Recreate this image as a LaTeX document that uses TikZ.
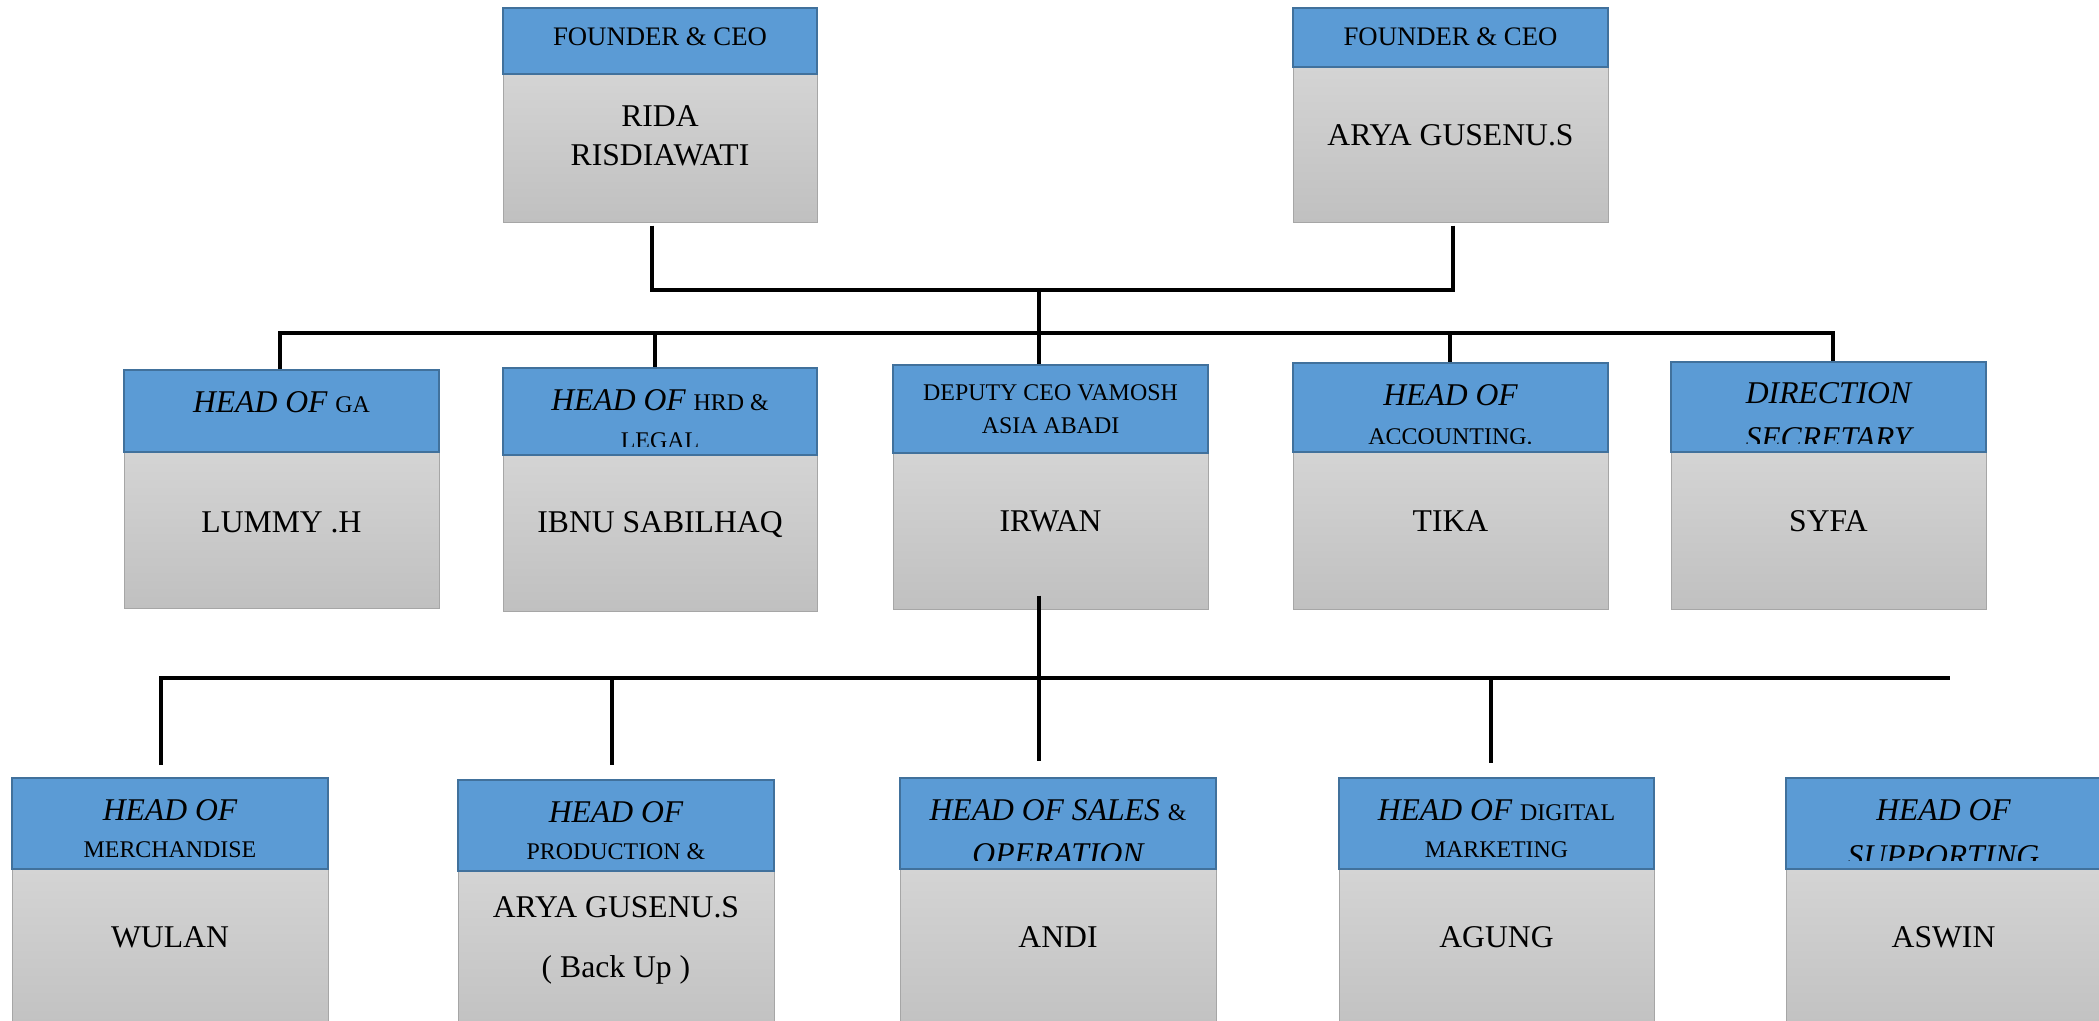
\documentclass[tikz,border=0pt]{standalone}
\usepackage{fontspec}
\setmainfont{Liberation Serif}
\usetikzlibrary{fit,calc}
\definecolor{hdrblue}{HTML}{5B9BD5}
\definecolor{hdredge}{HTML}{41719C}
\definecolor{bodytop}{HTML}{D4D4D4}
\definecolor{bodybot}{HTML}{C0C0C0}
\definecolor{bodyedge}{HTML}{A6A6A6}
\newcommand\hit[1]{{\fontsize{9}{10}\selectfont\itshape #1}}
\newcommand\hsm[1]{{\fontsize{6.8}{8}\selectfont #1}}
\newcommand\hfc[1]{{\fontsize{7.6}{9}\selectfont #1}}
\newcommand\orgbox[6]{%
  \node[bodybox, fit={(#2,#5) (#3,#6)}] (#1b) {};
  \node[hdrbox, fit={(#2,#4) (#3,#5)}] (#1h) {};
}
\newcommand\hdrclip[1]{\clip (#1h.north west) rectangle ($(#1h.south east)+(0,-10)$);}
\begin{document}
\begin{tikzpicture}[x=0.01cm, y=-0.01cm,
  conn/.style={line width=0.04cm, black},
  hdrbox/.style={fill=hdrblue, draw=hdredge, line width=0.02cm, inner sep=0pt},
  bodybox/.style={top color=bodytop, bottom color=bodybot, draw=bodyedge, line width=0.01cm, inner sep=0pt},
  txt/.style={inner sep=0pt, anchor=base, font=\fontsize{9}{11}\selectfont}]
\useasboundingbox (0,0) rectangle (2099,1021);
\clip (0,0) rectangle (2099,1021);

% boxes
\orgbox{ra}{503}{817}{8}{74}{222}
\orgbox{rb}{1293}{1608}{8}{67}{222}
\orgbox{ga}{124}{439}{370}{452}{608}
\orgbox{hrd}{503}{817}{368}{455}{611}
\orgbox{dep}{893}{1208}{365}{453}{609}
\orgbox{acc}{1293}{1608}{363}{452}{609}
\orgbox{dir}{1671}{1986}{362}{452}{609}
\orgbox{mer}{12}{328}{778}{869}{1040}
\orgbox{pro}{458}{774}{780}{871}{1040}
\orgbox{sal}{900}{1216}{778}{869}{1040}
\orgbox{dig}{1339}{1654}{778}{869}{1040}
\orgbox{sup}{1786}{2101}{778}{869}{1040}

% header texts
\node[txt] (rat1) at (660,45) {\hfc{FOUNDER \& CEO}};
\node[txt] (rbt1) at (1450.5,45) {\hfc{FOUNDER \& CEO}};
\begin{scope}\hdrclip{ga}
\node[txt] (gat1) at (281.5,412) {\hit{HEAD OF} \hsm{GA}};
\end{scope}
\begin{scope}\hdrclip{hrd}
\node[txt] (hrdt1) at (660,410) {\hit{HEAD OF} \hsm{HRD \&}};
\node[txt] (hrdt2) at (660,448) {\hsm{LEGAL}};
\end{scope}
\begin{scope}\hdrclip{dep}
\node[txt] (dept1) at (1050.5,400) {\hsm{DEPUTY CEO VAMOSH}};
\node[txt] (dept2) at (1050.5,433) {\hsm{ASIA ABADI}};
\end{scope}
\begin{scope}\hdrclip{acc}
\node[txt] (acct1) at (1450.5,405) {\hit{HEAD OF}};
\node[txt] (acct2) at (1450.5,444) {\hsm{ACCOUNTING.}};
\end{scope}
\begin{scope}\hdrclip{dir}
\node[txt] (dirt1) at (1828.5,403) {\hit{DIRECTION}};
\node[txt] (dirt2) at (1828.5,448) {\hit{SECRETARY}};
\end{scope}
\begin{scope}\hdrclip{mer}
\node[txt] (mert1) at (170,820) {\hit{HEAD OF}};
\node[txt] (mert2) at (170,857) {\hsm{MERCHANDISE}};
\end{scope}
\begin{scope}\hdrclip{pro}
\node[txt] (prot1) at (616,822) {\hit{HEAD OF}};
\node[txt] (prot2) at (616,859) {\hsm{PRODUCTION \&}};
\end{scope}
\begin{scope}\hdrclip{sal}
\node[txt] (salt1) at (1058,820) {\hit{HEAD OF SALES} \hsm{\&}};
\node[txt] (salt2) at (1058,864) {\hit{OPERATION}};
\end{scope}
\begin{scope}\hdrclip{dig}
\node[txt] (digt1) at (1496.5,820) {\hit{HEAD OF} \hsm{DIGITAL}};
\node[txt] (digt2) at (1496.5,857) {\hsm{MARKETING}};
\end{scope}
\begin{scope}\hdrclip{sup}
\node[txt] (supt1) at (1943.5,820) {\hit{HEAD OF}};
\node[txt] (supt2) at (1943.5,866) {\hit{SUPPORTING}};
\end{scope}

% names
\node[txt] (ran1) at (660,126) {RIDA};
\node[txt] (ran2) at (660,165) {RISDIAWATI};
\node[txt] (rbn1) at (1450.5,145) {ARYA GUSENU.S};
\node[txt] (gan) at (281.5,532) {LUMMY .H};
\node[txt] (hrdn) at (660,532) {IBNU SABILHAQ};
\node[txt] (depn) at (1050.5,531) {IRWAN};
\node[txt] (accn) at (1450.5,531) {TIKA};
\node[txt] (dirn) at (1828.5,531) {SYFA};
\node[txt] (mern) at (170,947) {WULAN};
\node[txt] (pron1) at (616,917) {ARYA GUSENU.S};
\node[txt] (pron2) at (616,977) {( Back Up )};
\node[txt] (saln) at (1058,947) {ANDI};
\node[txt] (dign) at (1496.5,947) {AGUNG};
\node[txt] (supn) at (1943.5,947) {ASWIN};

% connectors
\coordinate (jA) at (1039,290);
\draw[conn] ($(rab.south)+(-8,3)$) |- (jA);
\draw[conn] ($(rbb.south)+(2.5,3)$) |- (jA);
\draw[conn] (jA) -- (jA |- deph.north);
\coordinate (b2a) at (280,333);
\coordinate (b2b) at (655,333);
\coordinate (b2c) at (1450,333);
\coordinate (b2d) at (1833,333);
\draw[conn] (b2a |- gah.north) -- (b2a) -- (b2d) -- (b2d |- dirh.north);
\draw[conn] (b2b) -- (b2b |- hrdh.north);
\draw[conn] (b2c) -- (b2c |- acch.north);
\draw[conn] ($(depb.south)+(-11.5,-14)$) -- ($(salh.north)+(-19,-16)$);
\coordinate (b3e) at (1950,678);
\coordinate (b3p) at (612,678);
\coordinate (b3d) at (1491,678);
\draw[conn] ($(merh.north)+(-9,-12)$) |- (b3e);
\draw[conn] (b3p) -- ($(proh.north)+(-4,-14)$);
\draw[conn] (b3d) -- ($(digh.north)+(-5.5,-14)$);
\end{tikzpicture}
\end{document}
